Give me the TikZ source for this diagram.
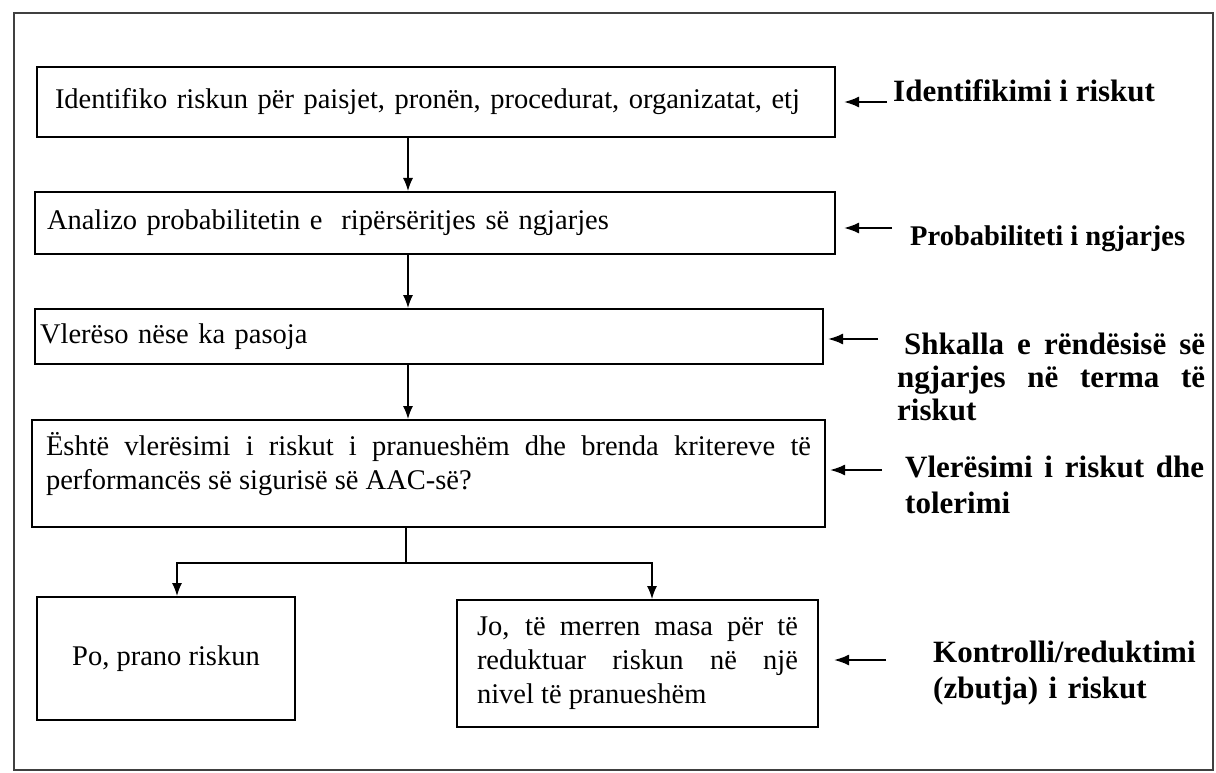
\documentclass[tikz,border=0pt]{standalone}
\usepackage{fontspec}
\setmainfont{Liberation Serif}
\usetikzlibrary{arrows.meta}
\usetikzlibrary{positioning}

\begin{document}
\begin{tikzpicture}[x=1pt,y=-1pt,
  stepbox/.style={draw,line width=2pt,rectangle,inner ysep=0pt,font=\fontsize{28.5}{34}\selectfont},
  note/.style={anchor=base west,inner sep=0pt,font=\fontsize{31}{36}\selectfont\bfseries},
  flow/.style={line width=1.3pt,-{Latex[length=13pt,width=10pt]}},
  sidearrow/.style={line width=2pt,-{Latex[length=15pt,width=11pt]}}]
\useasboundingbox (0,0) rectangle (1216,773);
\draw[line width=1.3pt,black!75] (14,13) rectangle (1213,770);

% steps of the assessment
\node (box1)[stepbox,minimum width=798pt,minimum height=70pt,inner xsep=18pt,text width=762pt,align=left] at (436,102) {Identifiko riskun për paisjet, pronën, procedurat, organizatat, etj};
\node (box2)[stepbox,minimum width=800pt,minimum height=62pt,inner xsep=12pt,text width=776pt,align=left] at (435,223) {Analizo probabilitetin e~ ripërsëritjes së ngjarjes};
\node (box3)[stepbox,minimum width=788pt,minimum height=55pt,inner xsep=5pt,text width=778pt,align=left] at (429,336.5) {Vlerëso nëse ka pasoja};
\node (box4)[stepbox,minimum width=793pt,minimum height=107pt,inner xsep=14pt,text width=765pt,align=justify] at (428.5,473.5) {Është vlerësimi i riskut i pranueshëm dhe brenda kritereve të\linebreak performancës së sigurisë së AAC-së?\\[-8pt]\mbox{}};
\node (box5)[stepbox,minimum width=258pt,minimum height=123pt,align=center] at (166,658.5) {Po, prano riskun};
\node (box6)[stepbox,minimum width=361pt,minimum height=127pt,inner xsep=20pt,text width=321pt,align=justify] at (637.5,663.5) {Jo, të merren masa për të\linebreak reduktuar riskun në një\linebreak nivel të pranueshëm};

% labels on the right
\node (lab1)[note] at (893,102) {Identifikimi i riskut};
\node (lab2)[note,font=\fontsize{28.5}{34}\selectfont\bfseries] at (910,245) {Probabiliteti i ngjarjes};
\node (lab3)[note,font=\fontsize{31}{33}\selectfont\bfseries,text width=308pt,align=justify] at (897,354) {\hspace*{7pt}Shkalla e rëndësisë së\linebreak ngjarjes në terma të\linebreak riskut};
\node (lab4)[note,text width=299pt,align=justify] at (905,477) {Vlerësimi i riskut dhe\linebreak tolerimi};
\node (lab5)[note,text width=270pt,align=left] at (933,662) {Kontrolli/reduktimi\\(zbutja) i riskut};

% flow
\coordinate (spine) at (408,0);
\draw[flow] (box1.south -| spine) -- (box2.north -| spine);
\draw[flow] (box2.south -| spine) -- (box3.north -| spine);
\draw[flow] (box3.south -| spine) -- (box4.north -| spine);
\coordinate (fork) at (406,563);
\coordinate (yes) at (177,0);
\coordinate (no) at (652,0);
\draw[line width=1.3pt] (box4.south -| fork) -- (fork);
\draw[flow] (fork) -| (box5.north -| yes);
\draw[flow] (fork) -| (box6.north -| no);

% arrows from labels
\coordinate (t1) at (887,102);
\coordinate (t2) at (892,228);
\coordinate (t3) at (878,339);
\coordinate (t4) at (882,470);
\coordinate (t5) at (886,660);
\draw[sidearrow] (t1) -- ([xshift=8pt]box1.east |- t1);
\draw[sidearrow] (t2) -- ([xshift=8pt]box2.east |- t2);
\draw[sidearrow] (t3) -- ([xshift=4pt]box3.east |- t3);
\draw[sidearrow] (t4) -- ([xshift=4pt]box4.east |- t4);
\draw[sidearrow] (t5) -- ([xshift=15pt]box6.east |- t5);
\end{tikzpicture}
\end{document}
